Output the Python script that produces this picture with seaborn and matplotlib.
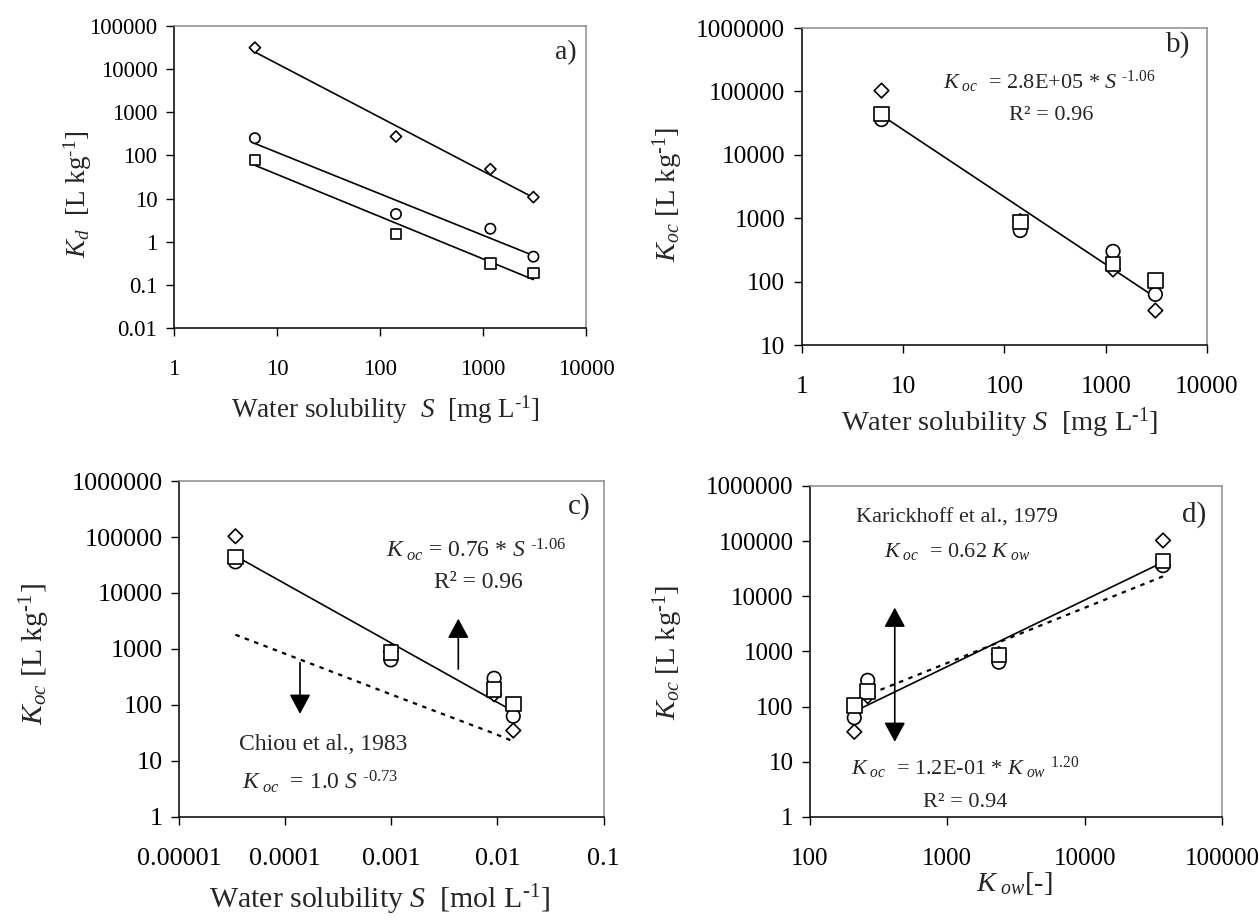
import numpy as np
import pandas as pd
import seaborn as sns
import matplotlib.pyplot as plt
from matplotlib.ticker import FixedLocator, FuncFormatter, NullLocator

# four compounds, ordered by increasing water solubility
s_mg = [6.1, 143, 1180, 3090]          # mg/L
s_mol = [3.4e-5, 0.00099, 0.0093, 0.0141]  # mol/L
k_ow = [37200, 2370, 263, 210]

# three sorbents (marker shapes)
kd_diamond = [31500, 274, 48, 10.8]
kd_circle = [251, 4.37, 2.0, 0.45]
kd_square = [79, 1.53, 0.31, 0.19]

koc_diamond = [103000, 900, 155, 35]
koc_circle = [36000, 640, 300, 63]
koc_square = [44000, 870, 190, 104]

# literature relations drawn as dotted lines
chiou_koc = [1800, 155, 31, 22.5]      # at s_mol
karick_koc = [23000, 1470, 163, 130]   # at k_ow

rows = []
for name, kd, koc in [('diamond', kd_diamond, koc_diamond),
                      ('circle', kd_circle, koc_circle),
                      ('square', kd_square, koc_square)]:
    for i in range(4):
        rows.append(dict(sorbent=name, s_mg=s_mg[i], s_mol=s_mol[i],
                         kow=k_ow[i], kd=kd[i], koc=koc[i]))
df = pd.DataFrame(rows)

sns.set_style('ticks')
plt.rcParams['font.family'] = ['Liberation Serif', 'DejaVu Serif']
plt.rcParams['mathtext.fontset'] = 'custom'
plt.rcParams['mathtext.rm'] = 'Liberation Serif'
plt.rcParams['mathtext.it'] = 'Liberation Serif:italic'

W, H = 1259, 922
fig = plt.figure(figsize=(W / 100, H / 100), dpi=100)

markers = {'diamond': 'D', 'circle': 'o', 'square': 's'}


def fmt(v, pos):
    dec = max(0, -int(round(np.log10(v))))
    return f'{v:.{dec}f}'


def power_fit(x, y):
    b, a = np.polyfit(np.log10(x), np.log10(y), 1)
    xs = np.array([min(x), max(x)])
    return xs, 10 ** a * xs ** b


def style_axes(ax, xlim, ylim, tick_fs):
    ax.set_xscale('log')
    ax.set_yscale('log')
    ax.set_xlim(*xlim)
    ax.set_ylim(*ylim)
    xt = [10.0 ** e for e in range(round(np.log10(xlim[0])), round(np.log10(xlim[1])) + 1)]
    yt = [10.0 ** e for e in range(round(np.log10(ylim[0])), round(np.log10(ylim[1])) + 1)]
    ax.xaxis.set_major_locator(FixedLocator(xt))
    ax.yaxis.set_major_locator(FixedLocator(yt))
    ax.xaxis.set_minor_locator(NullLocator())
    ax.yaxis.set_minor_locator(NullLocator())
    ax.xaxis.set_major_formatter(FuncFormatter(fmt))
    ax.yaxis.set_major_formatter(FuncFormatter(fmt))
    ax.tick_params(axis='both', direction='out', length=6, width=1,
                   labelsize=tick_fs, colors='black')
    ax.tick_params(axis='x', pad=16)
    ax.tick_params(axis='y', pad=6)
    for side in ['left', 'bottom']:
        ax.spines[side].set_color('black')
        ax.spines[side].set_linewidth(1.1)
    for side in ['top', 'right']:
        ax.spines[side].set_color('#8c8c8c')
        ax.spines[side].set_linewidth(1.1)
    ax.set_xlabel('')
    ax.set_ylabel('')


def points(ax, x, y, sizes):
    sns.scatterplot(data=df, x=x, y=y, style='sorbent', markers=markers,
                    size='sorbent', sizes=sizes, color='white',
                    edgecolor='black', linewidth=1.2, legend=False,
                    ax=ax, zorder=3)


def ftext(x, y, s, fs, **kw):
    fig.text(x / W, 1 - y / H, s, fontsize=fs, ha='center', va='center', **kw)


UNIT = r'[L kg$^{\text{-1}}$]'

# ---- a) Kd vs S (mg/L)
ax_a = fig.add_axes([0.1382, 0.6443, 0.3272, 0.3275])
for name, kd in [('diamond', kd_diamond), ('circle', kd_circle), ('square', kd_square)]:
    xs, ys = power_fit(s_mg, kd)
    ax_a.plot(xs, ys, color='black', lw=1.2, zorder=2)
points(ax_a, 's_mg', 'kd', {'diamond': 32, 'circle': 55, 'square': 55})
style_axes(ax_a, (1, 10000), (0.01, 100000), 16.5)
ftext(566, 53, 'a)', 20)
ftext(385, 410, r'Water solubility  $S$  [mg L$^{\text{-1}}$]', 19.5)
ftext(78, 194, r'$K_d$  ' + UNIT, 19.5, rotation=90)

# ---- b) Koc vs S (mg/L)
ax_b = fig.add_axes([0.637, 0.6258, 0.3217, 0.3438])
xs, ys = power_fit(df['s_mg'], df['koc'])
ax_b.plot(xs, ys, color='black', lw=1.2, zorder=2)
points(ax_b, 's_mg', 'koc', {'diamond': 55, 'circle': 95, 'square': 110})
style_axes(ax_b, (1, 10000), (10, 1000000), 18.2)
ftext(1178, 45, 'b)', 21)
ftext(1049, 82, r'$K_{\ oc}$  = 2.8E+05 * $S$ $^{\text{-1.06}}$', 16)
ftext(1051, 115, 'R² = 0.96', 16)
ftext(1000, 423, r'Water solubility $S$  [mg L$^{\text{-1}}$]', 20.5)
ftext(668, 194, r'$K_{oc}$ ' + UNIT, 20.5, rotation=90)

# ---- c) Koc vs S (mol/L) with Chiou et al. relation
ax_c = fig.add_axes([0.1422, 0.1139, 0.3372, 0.3644])
xs, ys = power_fit(df['s_mol'], df['koc'])
ax_c.plot(xs, ys, color='black', lw=1.2, zorder=2)
ax_c.plot(s_mol, chiou_koc, color='black', lw=1.6, ls=(0, (2, 2.5)), zorder=2)
points(ax_c, 's_mol', 'koc', {'diamond': 55, 'circle': 95, 'square': 110})
style_axes(ax_c, (0.00001, 0.1), (1, 1000000), 18.8)
ax_c.annotate('', xy=(0.00428, 3900), xytext=(0.00428, 390),
              arrowprops=dict(arrowstyle='-|>,head_length=1.2,head_width=0.65',
                              color='black', lw=1.2))
ax_c.annotate('', xy=(0.000138, 62), xytext=(0.000138, 640),
              arrowprops=dict(arrowstyle='-|>,head_length=1.2,head_width=0.65',
                              color='black', lw=1.2))
ftext(579, 507, 'c)', 21)
ftext(476, 550, r'$K_{\ oc}$ = 0.76 * $S$ $^{\text{-1.06}}$', 17)
ftext(478, 583, 'R² = 0.96', 17)
ftext(323, 745, 'Chiou et al., 1983', 17)
ftext(320, 782, r'$K_{\ oc}$  = 1.0 $S$ $^{\text{-0.73}}$', 17)
ftext(379, 900, r'Water solubility $S$  [mol L$^{\text{-1}}$]', 21.5)
ftext(35, 654, r'$K_{oc}$ ' + UNIT, 21.5, rotation=90)

# ---- d) Koc vs Kow with Karickhoff et al. relation
ax_d = fig.add_axes([0.6434, 0.1139, 0.3272, 0.359])
xs, ys = power_fit(df['kow'], df['koc'])
ax_d.plot(xs, ys, color='black', lw=1.2, zorder=2)
ax_d.plot(k_ow, karick_koc, color='black', lw=1.6, ls=(0, (2, 2.5)), zorder=2)
points(ax_d, 'kow', 'koc', {'diamond': 55, 'circle': 95, 'square': 110})
style_axes(ax_d, (100, 100000), (1, 1000000), 18)
ax_d.annotate('', xy=(414, 7000), xytext=(414, 20.5),
              arrowprops=dict(arrowstyle='<|-|>,head_length=1.2,head_width=0.65',
                              color='black', lw=1.2))
ftext(1194, 515, 'd)', 21)
ftext(957, 518, 'Karickhoff et al., 1979', 16)
ftext(957, 551, r'$K_{\ oc}$  = 0.62 $K_{\ ow}$', 16)
ftext(965, 768, r'$K_{\ oc}$  = 1.2E-01 * $K_{\ ow}$ $^{1.20}$', 16)
ftext(965, 802, 'R² = 0.94', 16)
ftext(1014, 883, r'$K_{\ ow}$[-]', 20.5)
ftext(668, 652, r'$K_{oc}$ ' + UNIT, 20.5, rotation=90)

fig.savefig('out.png', dpi=100, facecolor='white')
